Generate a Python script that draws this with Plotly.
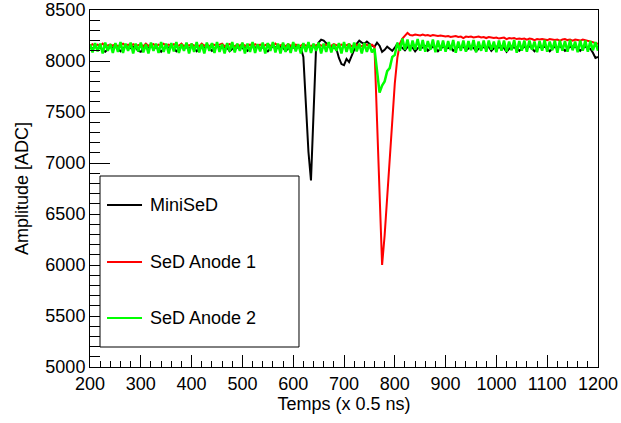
import plotly.graph_objects as go

# Sample index (x 0.5 ns), every 5 samples
temps = list(range(200, 1201, 5))

minised = [
    8130, 8125, 8140, 8120, 8135, 8105, 8090, 8120, 8140, 8130,
    8140, 8120, 8095, 8125, 8140, 8130, 8125, 8140, 8130, 8100,
    8090, 8125, 8140, 8130, 8145, 8125, 8135, 8115, 8090, 8120,
    8140, 8130, 8145, 8120, 8095, 8120, 8140, 8130, 8135, 8125,
    8140, 8130, 8095, 8120, 8140, 8130, 8145, 8125, 8100, 8120,
    8140, 8135, 8125, 8140, 8130, 8095, 8115, 8140, 8130, 8145,
    8125, 8135, 8100, 8120, 8140, 8130, 8145, 8125, 8135, 8115,
    8095, 8125, 8140, 8135, 8125, 8140, 8130, 8100, 8120, 8140,
    8130, 8140, 8135, 8130, 8040, 7580, 7110, 6830, 7590, 8130,
    8180, 8210, 8200, 8170, 8150, 8140, 8130, 8120, 8030, 7970,
    7960, 8020, 7990, 8050, 8120, 8170, 8200, 8180, 8170, 8190,
    8170, 8150, 8140, 8180, 8150, 8090, 8110, 8140, 8120, 8100,
    8130, 8170, 8150, 8130, 8105, 8135, 8145, 8130, 8095, 8125,
    8140, 8130, 8145, 8100, 8125, 8140, 8130, 8095, 8120, 8140,
    8135, 8125, 8140, 8100, 8120, 8140, 8130, 8145, 8105, 8125,
    8140, 8130, 8095, 8120, 8140, 8135, 8125, 8140, 8100, 8125,
    8140, 8130, 8145, 8125, 8090, 8120, 8140, 8130, 8135, 8100,
    8120, 8140, 8130, 8145, 8125, 8095, 8120, 8140, 8130, 8140,
    8125, 8095, 8120, 8140, 8130, 8145, 8125, 8100, 8120, 8140,
    8130, 8140, 8125, 8100, 8125, 8140, 8130, 8120, 8080, 8030,
    8040,
]

sed_anode1 = [
    8150, 8165, 8145, 8160, 8150, 8170, 8145, 8155, 8160, 8150,
    8165, 8145, 8155, 8170, 8150, 8160, 8145, 8165, 8150, 8155,
    8160, 8145, 8170, 8150, 8155, 8165, 8145, 8160, 8150, 8170,
    8150, 8160, 8145, 8165, 8155, 8150, 8170, 8145, 8160, 8150,
    8165, 8150, 8155, 8145, 8170, 8150, 8160, 8145, 8165, 8155,
    8150, 8160, 8170, 8145, 8155, 8165, 8150, 8145, 8160, 8150,
    8170, 8150, 8155, 8160, 8145, 8165, 8150, 8160, 8145, 8155,
    8165, 8150, 8145, 8170, 8150, 8155, 8160, 8145, 8165, 8150,
    8155, 8160, 8145, 8150, 8165, 8150, 8155, 8145, 8160, 8150,
    8165, 8150, 8155, 8160, 8145, 8150, 8165, 8155, 8145, 8160,
    8150, 8155, 8165, 8145, 8150, 8160, 8150, 8145, 8165, 8155,
    8150, 8160, 8140, 7420, 6700, 6000, 6290, 6680, 7080, 7450,
    7780, 8030, 8170, 8220, 8250, 8275, 8255, 8250, 8260, 8255,
    8250, 8260, 8250, 8255, 8245, 8255, 8250, 8245, 8250, 8245,
    8240, 8245, 8235, 8240, 8245, 8235, 8240, 8225, 8240, 8235,
    8240, 8230, 8235, 8240, 8230, 8235, 8225, 8235, 8230, 8225,
    8230, 8220, 8225, 8230, 8215, 8225, 8220, 8225, 8215, 8220,
    8215, 8220, 8210, 8220, 8215, 8205, 8215, 8210, 8215, 8210,
    8205, 8215, 8210, 8205, 8210, 8200, 8210, 8215, 8205, 8210,
    8200, 8210, 8205, 8200, 8210, 8205, 8200, 8195, 8185, 8175,
    8170,
]

sed_anode2 = [
    8165, 8085, 8175, 8095, 8170, 8075, 8180, 8100, 8165, 8080,
    8175, 8090, 8185, 8080, 8170, 8100, 8180, 8075, 8170, 8095,
    8180, 8085, 8165, 8075, 8180, 8100, 8170, 8080, 8185, 8090,
    8170, 8075, 8175, 8095, 8185, 8080, 8165, 8100, 8180, 8075,
    8170, 8090, 8185, 8085, 8165, 8075, 8180, 8100, 8175, 8080,
    8185, 8090, 8165, 8075, 8175, 8095, 8185, 8085, 8170, 8100,
    8180, 8075, 8170, 8090, 8185, 8080, 8165, 8095, 8180, 8075,
    8175, 8100, 8185, 8085, 8170, 8075, 8180, 8090, 8170, 8080,
    8185, 8095, 8165, 8075, 8175, 8090, 8185, 8080, 8170, 8100,
    8180, 8075, 8170, 8090, 8185, 8085, 8165, 8100, 8175, 8075,
    8185, 8090, 8170, 8080, 8180, 8095, 8170, 8075, 8175, 8090,
    8165, 8085, 8120, 7900, 7690, 7760, 7800, 7900, 7930, 8040,
    8060, 8180, 8100, 8220, 8110, 8210, 8095, 8200, 8110, 8215,
    8100, 8205, 8090, 8195, 8110, 8210, 8085, 8200, 8100, 8200,
    8090, 8195, 8105, 8205, 8080, 8190, 8100, 8200, 8090, 8195,
    8105, 8205, 8085, 8190, 8100, 8200, 8090, 8200, 8110, 8190,
    8085, 8200, 8100, 8200, 8090, 8190, 8105, 8205, 8080, 8195,
    8100, 8200, 8090, 8200, 8110, 8190, 8085, 8195, 8100, 8205,
    8090, 8190, 8105, 8200, 8080, 8200, 8100, 8195, 8090, 8205,
    8105, 8190, 8085, 8200, 8100, 8200, 8090, 8195, 8105, 8185,
    8100,
]

series_names = ["MiniSeD", "SeD Anode 1", "SeD Anode 2"]
series_colors = ["#000000", "#ff0000", "#00ff00"]
series_widths = [2, 2, 2.5]
series_values = [minised, sed_anode1, sed_anode2]

FONT = "Liberation Sans, Arial, Helvetica, sans-serif"

fig = go.Figure()
for name, color, w, vals in zip(series_names, series_colors, series_widths, series_values):
    fig.add_trace(go.Scatter(x=temps, y=vals, mode="lines", name=name,
                             line=dict(color=color, width=w), showlegend=False))

# Hand-drawn ROOT-style legend box (paper coordinates)
L_X0, L_X1, L_Y0, L_Y1 = 0.0197, 0.4114, 0.056, 0.535
fig.add_shape(type="rect", xref="paper", yref="paper", x0=L_X0, x1=L_X1, y0=L_Y0, y1=L_Y1,
              line=dict(color="black", width=1), fillcolor="white", layer="above")
legend_rows = [0.4538, 0.2941, 0.1373]
for name, color, yy in zip(series_names, series_colors, legend_rows):
    fig.add_shape(type="line", xref="paper", yref="paper", x0=0.0335, x1=0.1024, y0=yy, y1=yy,
                  line=dict(color=color, width=2), layer="above")
    fig.add_annotation(xref="paper", yref="paper", x=0.114, y=yy, text=name, showarrow=False,
                       xanchor="left", yanchor="middle", font=dict(size=18, color="black", family=FONT))

fig.update_layout(
    width=621, height=423,
    margin=dict(l=90, r=23, t=10, b=56, autoexpand=False),
    paper_bgcolor="white", plot_bgcolor="white",
    font=dict(family=FONT, size=18, color="black"),
)
fig.update_xaxes(
    range=[200, 1200], dtick=100, tick0=200, ticks="inside", ticklen=12, tickwidth=1, tickcolor="black",
    minor=dict(dtick=20, ticks="inside", ticklen=6, tickcolor="black", tickwidth=1),
    showline=True, linecolor="black", linewidth=1, mirror=True, showgrid=False, zeroline=False,
    title=dict(text="Temps (x 0.5 ns)", standoff=4, font=dict(size=18)),
    tickfont=dict(size=18), automargin=False, ticklabeloverflow="allow",
)
fig.update_yaxes(
    range=[5000, 8500], dtick=500, tick0=5000, ticks="inside", ticklen=20, tickwidth=1, tickcolor="black",
    minor=dict(dtick=100, ticks="inside", ticklen=10, tickcolor="black", tickwidth=1),
    showline=True, linecolor="black", linewidth=1, mirror=True, showgrid=False, zeroline=False,
    title=dict(text="Amplitude [ADC]", standoff=12, font=dict(size=18)),
    tickfont=dict(size=18), automargin=False, ticklabeloverflow="allow",
)

# remove the browser's default 8px page margin so the figure sits at (0, 0)
fig.write_html("out.html", config={"displayModeBar": False},
               post_script="document.body.style.margin='0';")
